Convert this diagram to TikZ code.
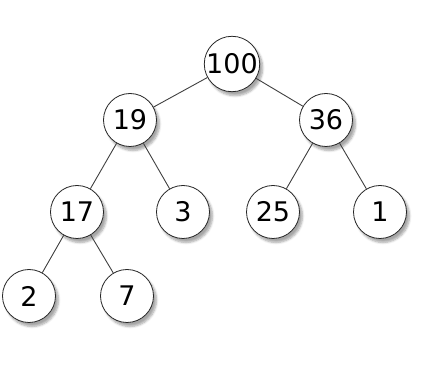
\documentclass[tikz,border=0pt]{standalone}
\usepackage{fontspec}
\setmainfont{DejaVu Sans}
\usetikzlibrary{shadows.blur}

\begin{document}
\begin{tikzpicture}[
  x=1pt, y=-1pt,
  font=\fontsize{27}{27}\selectfont,
  heapnode/.style={draw=black!85, text=black, circle, fill=white, minimum size=53pt,
    inner sep=0pt, line width=0.8pt,
    blur shadow={shadow xshift=3pt, shadow yshift=-4pt, shadow blur steps=6,
      shadow opacity=35}},
  link/.style={line width=0.9pt, black!75}
]
\useasboundingbox (0,0) rectangle (448,382);

\node[heapnode] (n100) at (232,64) {100};
\node[heapnode] (n19) at (130,120) {19};
\node[heapnode] (n36) at (326,120) {36};
\node[heapnode] (n17) at (77,212) {17};
\node[heapnode] (n3) at (183,212) {3};
\node[heapnode] (n25) at (273,212) {25};
\node[heapnode] (n1) at (380,212) {1};
\node[heapnode] (n2) at (29,296) {2};
\node[heapnode] (n7) at (127,296) {7};

\draw[link] (n100) -- (n19);
\draw[link] (n100) -- (n36);
\draw[link] (n19) -- (n17);
\draw[link] (n19) -- (n3);
\draw[link] (n36) -- (n25);
\draw[link] (n36) -- (n1);
\draw[link] (n17) -- (n2);
\draw[link] (n17) -- (n7);

\end{tikzpicture}
\end{document}
